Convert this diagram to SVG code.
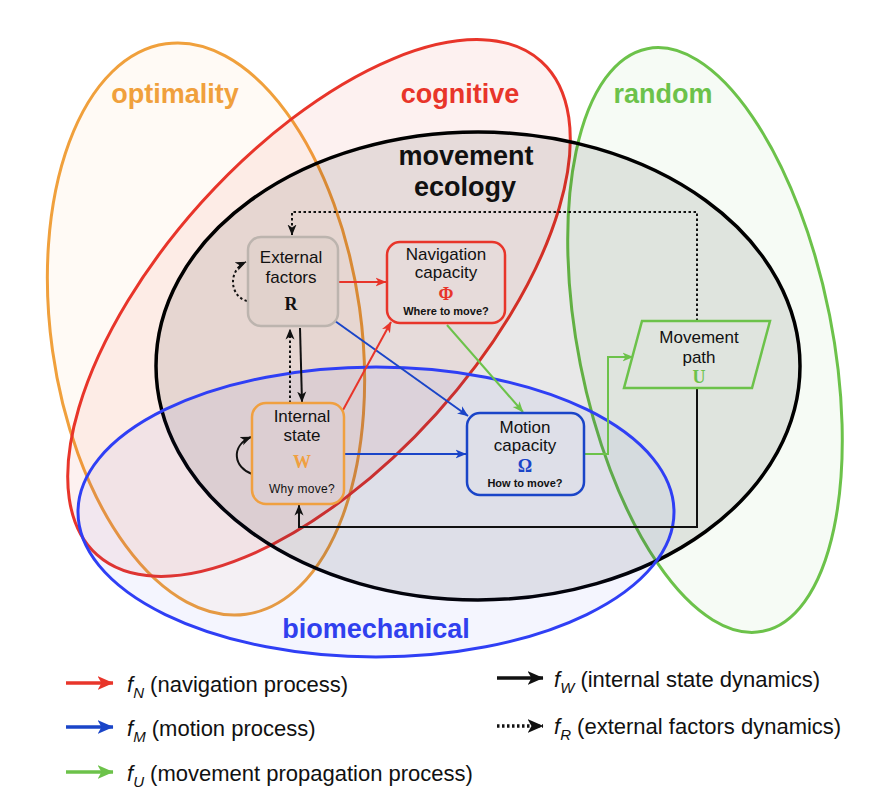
<svg xmlns="http://www.w3.org/2000/svg" width="886" height="810" viewBox="0 0 886 810">
<style>
.region{stroke-width:3}
.title{font-family:"Liberation Sans",Arial,sans-serif;font-weight:bold;font-size:27px;text-anchor:middle}
.lbl{font-family:"Liberation Sans",Arial,sans-serif;font-size:17px;fill:#111;text-anchor:middle}
.q{font-family:"Liberation Sans",Arial,sans-serif;font-size:11px;font-weight:bold;fill:#111;text-anchor:middle}
.qr{font-family:"Liberation Sans",Arial,sans-serif;font-size:12px;fill:#111;text-anchor:middle;letter-spacing:0.3px}
.sym{font-family:"Liberation Serif","Times New Roman",serif;font-weight:bold;font-size:18px;text-anchor:middle}
.box{stroke-width:2.5}
.con{fill:none;stroke-width:2}
.dot{stroke-dasharray:2.5 2.5}
.leg{font-family:"Liberation Sans",Arial,sans-serif;font-size:22px;fill:#111}
.legline{fill:none;stroke-width:3.5}
</style>
<defs>
<marker id="ar" viewBox="0 0 11 10" refX="10.5" refY="5" markerWidth="11" markerHeight="10" markerUnits="userSpaceOnUse" orient="auto"><path d="M0,0.5 L11,5 L0,9.5 L3,5 z" fill="#e8352a"/></marker>
<marker id="ab" viewBox="0 0 11 10" refX="10.5" refY="5" markerWidth="11" markerHeight="10" markerUnits="userSpaceOnUse" orient="auto"><path d="M0,0.5 L11,5 L0,9.5 L3,5 z" fill="#1a45c8"/></marker>
<marker id="ag" viewBox="0 0 11 10" refX="10.5" refY="5" markerWidth="11" markerHeight="10" markerUnits="userSpaceOnUse" orient="auto"><path d="M0,0.5 L11,5 L0,9.5 L3,5 z" fill="#6cc24a"/></marker>
<marker id="ak" viewBox="0 0 11 10" refX="10.5" refY="5" markerWidth="11" markerHeight="10" markerUnits="userSpaceOnUse" orient="auto"><path d="M0,0.5 L11,5 L0,9.5 L3,5 z" fill="#111"/></marker>
<marker id="Lr" viewBox="0 0 16 16" refX="15.5" refY="8" markerWidth="16" markerHeight="16" markerUnits="userSpaceOnUse" orient="auto"><path d="M0,1 L16,8 L0,15 L4,8 z" fill="#e8352a"/></marker>
<marker id="Lb" viewBox="0 0 16 16" refX="15.5" refY="8" markerWidth="16" markerHeight="16" markerUnits="userSpaceOnUse" orient="auto"><path d="M0,1 L16,8 L0,15 L4,8 z" fill="#1a45c8"/></marker>
<marker id="Lg" viewBox="0 0 16 16" refX="15.5" refY="8" markerWidth="16" markerHeight="16" markerUnits="userSpaceOnUse" orient="auto"><path d="M0,1 L16,8 L0,15 L4,8 z" fill="#6cc24a"/></marker>
<marker id="Lk" viewBox="0 0 16 16" refX="15.5" refY="8" markerWidth="16" markerHeight="16" markerUnits="userSpaceOnUse" orient="auto"><path d="M0,1 L16,8 L0,15 L4,8 z" fill="#111"/></marker>
</defs>
<rect width="886" height="810" fill="#fff"/>
<g id="regions">
<g id="optimality"><ellipse class="region" cx="206" cy="329" rx="155" ry="288" transform="rotate(-8 206 329)" fill="#f7a539" fill-opacity="0.05" stroke="#f0a03c"/></g>
<g id="cognitive"><ellipse class="region" cx="319" cy="308" rx="332" ry="158" transform="rotate(-48 319 308)" fill="#e8352a" fill-opacity="0.07" stroke="#e8352a"/></g>
<g id="random"><ellipse class="region" cx="705" cy="340" rx="127" ry="297" transform="rotate(-11.2 705 340)" fill="#66c34f" fill-opacity="0.06" stroke="#6cc24a"/></g>
<g id="movement-ecology"><ellipse cx="478" cy="366" rx="322" ry="234" fill="#000" fill-opacity="0.09" stroke="#000" stroke-width="3.5"/></g>
<g id="biomechanical"><ellipse class="region" cx="376" cy="512" rx="298" ry="145" fill="#3040f0" fill-opacity="0.05" stroke="#2f3ff5"/></g>
</g>
<g id="region-labels">
<text class="title" x="175" y="103" fill="#f0a03c">optimality</text>
<text class="title" x="460" y="103" fill="#e8352a">cognitive</text>
<text class="title" x="663" y="103" fill="#6cc24a">random</text>
<text class="title" x="466" y="165" fill="#111">movement</text>
<text class="title" x="465" y="196" fill="#111">ecology</text>
<text class="title" x="376" y="638" fill="#3040ee">biomechanical</text>
</g>
<g id="connectors">
<path class="con dot" d="M697,321 V212 H292 V235" stroke="#111" stroke-width="2.5" marker-end="url(#ak)"/>
<path class="con dot" d="M247,301 C229,296 228,270 246,262" stroke="#111" stroke-width="2.5" marker-end="url(#ak)"/>
<path class="con" d="M339,282 H386" stroke="#e8352a" marker-end="url(#ar)"/>
<path class="con" d="M335,321 L468,416" stroke="#1a45c8" marker-end="url(#ab)"/>
<path class="con" d="M300,328 L302,402" stroke="#111" stroke-width="2.5" marker-end="url(#ak)"/>
<path class="con dot" d="M290,403 V329" stroke="#111" stroke-width="2.5" marker-end="url(#ak)"/>
<path class="con" d="M343,410 L391,322" stroke="#e8352a" marker-end="url(#ar)"/>
<path class="con" d="M447,325 L523,412" stroke="#6cc24a" marker-end="url(#ag)"/>
<path class="con" d="M344,454 H466" stroke="#1a45c8" marker-end="url(#ab)"/>
<path class="con" d="M252,474 C234,468 230,446 251,437" stroke="#111" stroke-width="2.5" marker-end="url(#ak)"/>
<path class="con" d="M584,454 H608 V357 H633" stroke="#6cc24a" marker-end="url(#ag)"/>
<path class="con" d="M697,388 V527 H299 V505" stroke="#111" stroke-width="2.5" marker-end="url(#ak)"/>
</g>
<g id="external-factors">
<rect class="box" x="248" y="237" width="90" height="89" rx="13" fill="#c8bcb6" fill-opacity="0.15" stroke="#bcb4ae"/>
<text class="lbl" x="291" y="263">External</text>
<text class="lbl" x="291" y="283">factors</text>
<text class="sym" x="291" y="310" font-size="17" fill="#111">R</text>
</g>
<g id="navigation-capacity">
<rect class="box" x="387" y="242" width="118" height="81" rx="13" fill="none" stroke="#e8352a"/>
<text class="lbl" x="446" y="260">Navigation</text>
<text class="lbl" x="446" y="278">capacity</text>
<text class="sym" x="446" y="300" fill="#e8352a">Φ</text>
<text class="q" x="446" y="315">Where to move?</text>
</g>
<g id="internal-state">
<rect class="box" x="252" y="403" width="92" height="101" rx="14" fill="none" stroke="#f0a040"/>
<text class="lbl" x="302" y="422">Internal</text>
<text class="lbl" x="302" y="441">state</text>
<text class="sym" x="302" y="468" fill="#f0a040">W</text>
<text class="qr" x="302" y="493">Why move?</text>
</g>
<g id="motion-capacity">
<rect class="box" x="467" y="413" width="117" height="82" rx="13" fill="none" stroke="#1a45c8"/>
<text class="lbl" x="525" y="433">Motion</text>
<text class="lbl" x="525" y="451">capacity</text>
<text class="sym" x="525" y="472" fill="#1a45c8">Ω</text>
<text class="q" x="525" y="487">How to move?</text>
</g>
<g id="movement-path">
<path class="box" d="M642,321 H770 L752,388 H624 Z" fill="none" stroke="#6cc24a"/>
<text class="lbl" x="699" y="343">Movement</text>
<text class="lbl" x="699" y="363">path</text>
<text class="sym" x="699" y="383" fill="#6cc24a">U</text>
</g>
<g id="legend">
<path class="legline" d="M66,683 H113" stroke="#e8352a" marker-end="url(#Lr)"/>
<text class="leg" x="127" y="692"><tspan font-style="italic">f</tspan><tspan font-style="italic" font-size="15" dy="6">N</tspan><tspan dy="-6"> (navigation process)</tspan></text>
<path class="legline" d="M66,727 H113" stroke="#1a45c8" marker-end="url(#Lb)"/>
<text class="leg" x="127" y="736"><tspan font-style="italic">f</tspan><tspan font-style="italic" font-size="15" dy="6">M</tspan><tspan dy="-6"> (motion process)</tspan></text>
<path class="legline" d="M66,772 H113" stroke="#6cc24a" marker-end="url(#Lg)"/>
<text class="leg" x="127" y="781"><tspan font-style="italic">f</tspan><tspan font-style="italic" font-size="15" dy="6">U</tspan><tspan dy="-6"> (movement propagation process)</tspan></text>
<path class="legline" d="M497,678 H543" stroke="#111" stroke-width="4" marker-end="url(#Lk)"/>
<text class="leg" x="554" y="687"><tspan font-style="italic">f</tspan><tspan font-style="italic" font-size="15" dy="6">W</tspan><tspan dy="-6"> (internal state dynamics)</tspan></text>
<path class="legline dot" d="M497,726 H543" stroke="#111" stroke-width="3.5" marker-end="url(#Lk)"/>
<text class="leg" x="554" y="734"><tspan font-style="italic">f</tspan><tspan font-style="italic" font-size="15" dy="6">R</tspan><tspan dy="-6"> (external factors dynamics)</tspan></text>
</g>
</svg>
